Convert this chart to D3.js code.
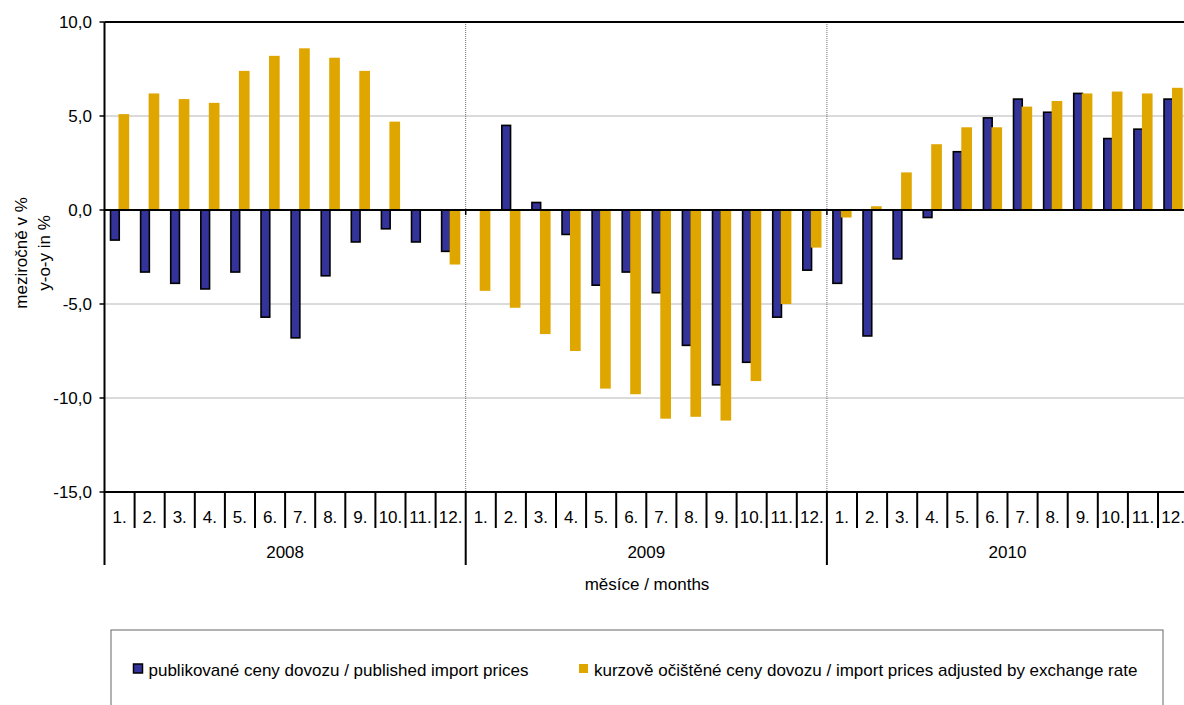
<!DOCTYPE html>
<html lang="cs">
  <head>
    <meta charset="UTF-8" />
    <title>Ceny dovozu</title>
    <script src="https://d3js.org/d3.v7.min.js"></script>
    <style>
      body { margin: 0; background: #fff; }
      text { font-family: "Liberation Sans", Arial, sans-serif; fill: #000; font-size: 17px; }
    </style>
  </head>
  <body>
    <svg></svg>
    <script>
      var width = 1184;
      var height = 705;

      var years = ["2008", "2009", "2010"];
      var months = ["1.", "2.", "3.", "4.", "5.", "6.", "7.", "8.", "9.", "10.", "11.", "12."];
      var yTicks = [10, 5, 0, -5, -10, -15];

      // publikované ceny dovozu
      var published = [
        -1.6, -3.3, -3.9, -4.2, -3.3, -5.7, -6.8, -3.5, -1.7, -1.0, -1.7, -2.2,
        0.0, 4.5, 0.4, -1.3, -4.0, -3.3, -4.4, -7.2, -9.3, -8.1, -5.7, -3.2,
        -3.9, -6.7, -2.6, -0.4, 3.1, 4.9, 5.9, 5.2, 6.2, 3.8, 4.3, 5.9
      ];
      // kurzově očištěné ceny dovozu
      var adjusted = [
        5.1, 6.2, 5.9, 5.7, 7.4, 8.2, 8.6, 8.1, 7.4, 4.7, 0.0, -2.9,
        -4.3, -5.2, -6.6, -7.5, -9.5, -9.8, -11.1, -11.0, -11.2, -9.1, -5.0, -2.0,
        -0.4, 0.2, 2.0, 3.5, 4.4, 4.4, 5.5, 5.8, 6.2, 6.3, 6.2, 6.5
      ];

      var seriesNames = [
        "publikované ceny dovozu / published import prices",
        "kurzově očištěné ceny dovozu / import prices adjusted by exchange rate"
      ];
      var colors = ["#333399", "#E0A600"];

      var plotLeft = 104.5, plotTop = 22, plotBottom = 492;
      var step = 30.1;
      var n = published.length;

      var svg = d3.select("svg").attr("width", width).attr("height", height);

      var x = d3.scaleBand()
        .domain(d3.range(n))
        .range([plotLeft, plotLeft + step * n])
        .padding(0);
      var bw = x.bandwidth();

      var y = d3.scaleLinear().domain([-15, 10]).range([plotBottom, plotTop]);

      // gridlines
      svg.append("g")
        .selectAll("line")
        .data([5, -5, -10])
        .join("line")
        .attr("x1", plotLeft).attr("x2", width)
        .attr("y1", d => y(d)).attr("y2", d => y(d))
        .style("stroke", "#6e6e6e")
        .style("stroke-dasharray", "1,1");

      svg.append("g")
        .selectAll("line")
        .data([12, 24])
        .join("line")
        .attr("x1", d => x(d)).attr("x2", d => x(d))
        .attr("y1", plotTop).attr("y2", plotBottom)
        .style("stroke", "#6e6e6e")
        .style("stroke-dasharray", "1,1");

      // bars
      svg.append("g")
        .selectAll("rect")
        .data(published)
        .join("rect")
        .attr("x", (d, i) => x(i) + bw * 0.2)
        .attr("width", bw * 0.29)
        .attr("y", d => y(Math.max(0, d)))
        .attr("height", d => Math.abs(y(d) - y(0)))
        .style("fill", colors[0])
        .style("stroke", "#000")
        .style("stroke-width", 1.6);

      svg.append("g")
        .selectAll("rect")
        .data(adjusted)
        .join("rect")
        .attr("x", (d, i) => x(i) + bw * 0.465)
        .attr("width", bw * 0.355)
        .attr("y", d => y(Math.max(0, d)))
        .attr("height", d => Math.abs(y(d) - y(0)))
        .style("fill", colors[1]);

      // frame
      svg.append("line")
        .attr("x1", plotLeft).attr("x2", width)
        .attr("y1", plotTop).attr("y2", plotTop)
        .style("stroke", "#000").style("stroke-width", 2);
      svg.append("line")
        .attr("x1", plotLeft).attr("x2", width)
        .attr("y1", plotBottom).attr("y2", plotBottom)
        .style("stroke", "#000").style("stroke-width", 2);
      svg.append("line")
        .attr("x1", plotLeft).attr("x2", width)
        .attr("y1", y(0)).attr("y2", y(0))
        .style("stroke", "#000").style("stroke-width", 2);
      svg.append("line")
        .attr("x1", plotLeft).attr("x2", plotLeft)
        .attr("y1", plotTop).attr("y2", 565)
        .style("stroke", "#000").style("stroke-width", 2);

      // ticks on zero line at year boundaries
      svg.append("g")
        .selectAll("line")
        .data([12, 24])
        .join("line")
        .attr("x1", d => x(d)).attr("x2", d => x(d))
        .attr("y1", y(0)).attr("y2", y(0) + 5)
        .style("stroke", "#000").style("stroke-width", 1.5);

      // y axis
      var yAxis = svg.append("g");
      yAxis.selectAll("line")
        .data(yTicks)
        .join("line")
        .attr("x1", plotLeft - 5).attr("x2", plotLeft)
        .attr("y1", d => y(d)).attr("y2", d => y(d))
        .style("stroke", "#000").style("stroke-width", 1.5);
      yAxis.selectAll("text")
        .data(yTicks)
        .join("text")
        .attr("x", 92)
        .attr("y", d => y(d))
        .attr("dy", "0.35em")
        .attr("text-anchor", "end")
        .text(d => d3.format(".1f")(d).replace("−", "-").replace(".", ","));

      // category axis: months
      var cat = svg.append("g");
      cat.selectAll("line.m")
        .data(d3.range(1, n).filter(i => i % 12 !== 0))
        .join("line")
        .attr("class", "m")
        .attr("x1", d => x(d)).attr("x2", d => x(d))
        .attr("y1", plotBottom).attr("y2", 528)
        .style("stroke", "#000").style("stroke-width", 2);
      cat.selectAll("line.y")
        .data([12, 24])
        .join("line")
        .attr("class", "y")
        .attr("x1", d => x(d)).attr("x2", d => x(d))
        .attr("y1", plotBottom).attr("y2", 565)
        .style("stroke", "#000").style("stroke-width", 2);
      cat.selectAll("text.m")
        .data(d3.range(n))
        .join("text")
        .attr("class", "m")
        .attr("x", d => x(d) + bw / 2)
        .attr("y", 517)
        .attr("dy", "0.35em")
        .attr("text-anchor", "middle")
        .text(d => months[d % 12]);
      cat.selectAll("text.y")
        .data(years)
        .join("text")
        .attr("class", "y")
        .attr("x", (d, i) => (x(i * 12) + x(i * 12 + 11) + bw) / 2)
        .attr("y", 552)
        .attr("dy", "0.35em")
        .attr("text-anchor", "middle")
        .text(d => d);

      // axis titles
      svg.append("text")
        .attr("x", 647).attr("y", 584)
        .attr("dy", "0.35em")
        .attr("text-anchor", "middle")
        .text("měsíce / months");

      var yt = svg.append("text")
        .attr("transform", "translate(21, 253) rotate(-90)")
        .attr("text-anchor", "middle");
      yt.append("tspan").attr("x", 0).attr("dy", "0.35em").text("meziročně v %");
      yt.append("tspan").attr("x", 0).attr("dy", "1.35em").text("y-o-y in %");

      // legend
      var lg = svg.append("g");
      lg.append("rect")
        .attr("x", 111).attr("y", 630)
        .attr("width", 1052).attr("height", 100)
        .style("fill", "none")
        .style("stroke", "#666")
        .style("stroke-width", 1);

      var legendX = [133.5, 579];
      lg.selectAll("rect.k")
        .data(seriesNames)
        .join("rect")
        .attr("class", "k")
        .attr("x", (d, i) => legendX[i])
        .attr("y", 664)
        .attr("width", 9).attr("height", 9)
        .style("fill", (d, i) => colors[i])
        .style("stroke", (d, i) => i === 0 ? "#000" : "none")
        .style("stroke-width", 1.5);
      lg.selectAll("text")
        .data(seriesNames)
        .join("text")
        .attr("x", (d, i) => legendX[i] + 15)
        .attr("y", 670)
        .attr("dy", "0.35em")
        .text(d => d);
    </script>
  </body>
</html>
